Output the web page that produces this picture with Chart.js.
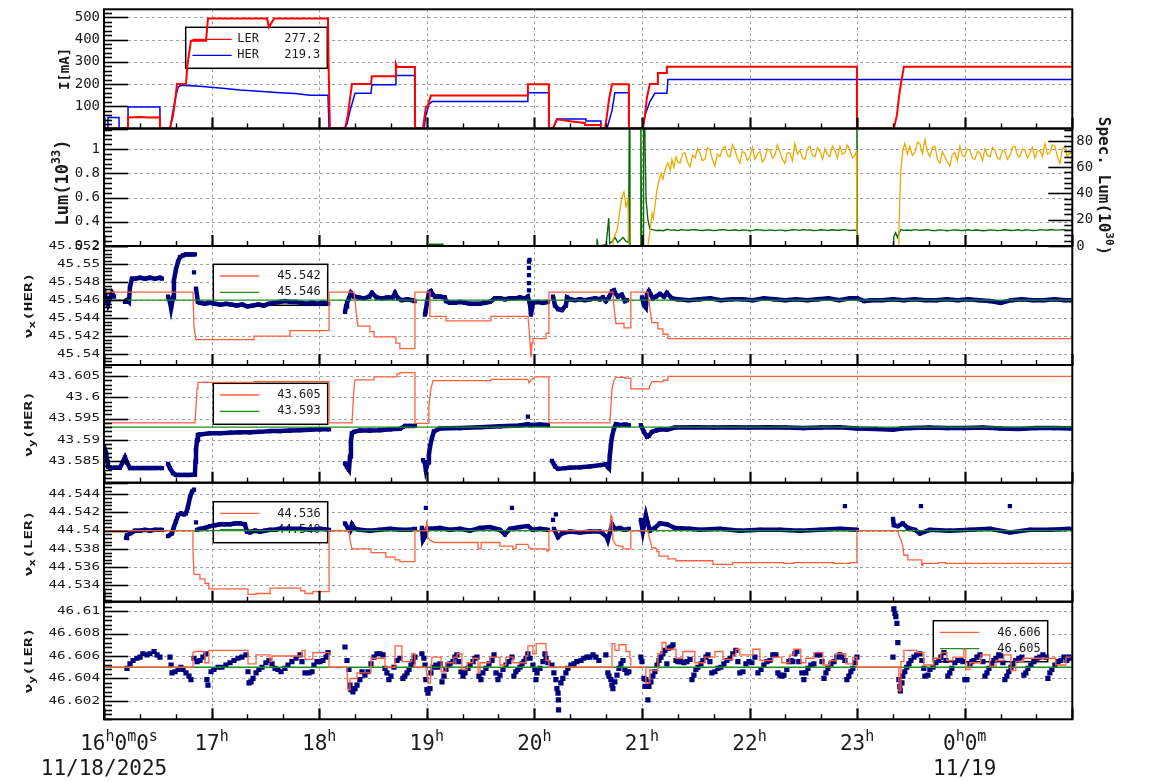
<!DOCTYPE html>
<html>
<head>
<meta charset="utf-8">
<title>Beam current, luminosity and tunes</title>
<script src="https://cdn.jsdelivr.net/npm/chart.js@4.4.1/dist/chart.umd.min.js"></script>
<style>
  html, body { margin: 0; padding: 0; background: #fff; }
  #wrap { position: relative; width: 1154px; height: 782px; }
  #wrap canvas { position: absolute; left: 0; top: 0; }
</style>
</head>
<body>
<div id="wrap">
  <canvas id="pCur" width="1154" height="782"></canvas>
  <canvas id="pLum" width="1154" height="782"></canvas>
  <canvas id="pNuxHer" width="1154" height="782"></canvas>
  <canvas id="pNuyHer" width="1154" height="782"></canvas>
  <canvas id="pNuxLer" width="1154" height="782"></canvas>
  <canvas id="pNuyLer" width="1154" height="782"></canvas>
</div>
<script>
// time is in minutes after 16:00 on 11/18/2025
const hourTicks = [0, 60, 120, 180, 240, 300, 360, 420, 480, 540];
const hourTickLabels = [
  ["16", "h", "0", "m", "0", "s"], ["17", "h"], ["18", "h"], ["19", "h"], ["20", "h"],
  ["21", "h"], ["22", "h"], ["23", "h"], ["0", "h", "0", "m"], null
];
const dateLabels = [[0, "11/18/2025"], [480, "11/19"]];

// ---- beam current [mA] ----
const curTicks = [100, 200, 300, 400, 500];
const curTickLabels = ["100", "200", "300", "400", "500"];
const lerNow = "277.2";
const herNow = "219.3";
const curLer = [[0,0],[13.4,0],[13.4,50],[20,52],[25,49],[31.2,50],[31.2,0],[36.8,0],[38.5,60],[39.6,120],[40.7,200],[45.7,200],[46.5,280],[47.5,340],[48.5,395],[56.9,395],[58,495],[90.9,495],[92,455],[94.8,495],[124.9,495],[125.3,260],[126,0],[134.4,0],[136,60],[136.6,100],[138.3,200],[148.9,200],[149.4,235],[162.3,235],[162.8,290],[163.4,277],[173.4,277],[173.4,0],[177.9,0],[179.5,98],[180.5,100],[182.3,148],[236.4,148],[236.4,199],[248.1,199],[248.1,0],[250.4,0],[252.6,41],[260,33],[268.2,25],[268.2,16],[277.1,16],[277.1,0],[279.4,0],[280.5,60],[281.6,130],[283.3,199],[292.7,199],[292.7,0],[300.5,0],[301.7,60],[302.8,140],[304.4,200],[308.9,200],[308.9,250],[313.9,250],[313.9,278],[419.9,278],[419.9,0],[440.5,0],[442.2,60],[443.3,140],[444.4,200],[445.5,250],[446.1,278],[539.7,278]];
const curHer = [[0,0],[2.2,0],[2.2,50],[8.4,50],[8.4,0],[13.4,0],[13.4,97],[31.2,97],[31.2,0],[36.8,0],[37.9,50],[39.6,130],[41.3,185],[42.9,195],[53.5,190],[59.7,185],[67.5,180],[75.8,173],[84.4,169],[98.1,161],[106.5,157],[114.9,150],[124.9,150],[125.5,0],[134.4,0],[135.5,20],[137.2,80],[140,158],[148.9,158],[149.4,197],[162.3,197],[162.8,238],[173.4,238],[173.4,0],[178.5,0],[179.5,60],[181.3,110],[183,121],[236.4,121],[236.4,161],[248.1,161],[248.1,0],[250.4,0],[252.6,43],[268.8,43],[268.8,34],[277.1,34],[277.1,0],[280.5,0],[283.3,80],[284.9,161],[292.7,161],[292.7,0],[300.5,0],[301.7,60],[304.4,120],[307.2,158],[313.9,158],[314.5,220],[539.7,220]];

// ---- luminosity [1e33] and specific luminosity [1e30] ----
const lumTicks = [0.2, 0.4, 0.6, 0.8, 1];
const lumTickLabels = ["0.2", "0.4", "0.6", "0.8", "1"];
const specTicks = [0, 20, 40, 60, 80];
const specTickLabels = ["0", "20", "40", "60", "80"];
const lum = [[0,0],[181,0],[181.5,0.215],[189,0.215],[189.5,0],[274.5,0],[275,0.26],[275.5,0.2],[280,0.21],[281.5,0.43],[282,0.22],[283.5,0.24],[285,0.27],[286.5,0.23],[288,0.25],[289.5,0.27],[291,0.24],[292.5,0.23],[293,1.3],[293.3,0.1],[299.2,0.1],[299.4,1.3],[299.8,0.2],[300.6,0.2],[300.9,1.3],[301.5,1.3],[301.8,0.97],[302.3,0.58],[303.3,0.42],[304.4,0.34],[306,0.335],[308,0.328],[310,0.33],[312,0.326],[314,0.338],[316,0.331],[318,0.332],[320,0.327],[322,0.336],[324,0.331],[326,0.33],[328,0.335],[330,0.334],[332,0.329],[334,0.328],[336,0.333],[338,0.332],[340,0.327],[342,0.33],[344,0.335],[346,0.334],[348,0.329],[350,0.33],[352,0.334],[354,0.327],[356,0.332],[358,0.331],[360,0.326],[362,0.329],[364,0.334],[366,0.333],[368,0.328],[370,0.33],[372,0.333],[374,0.327],[376,0.331],[378,0.331],[380,0.326],[382,0.329],[384,0.334],[386,0.333],[388,0.329],[390,0.336],[392,0.331],[394,0.332],[396,0.327],[398,0.329],[400,0.334],[402,0.331],[404,0.328],[406,0.334],[408,0.33],[410,0.33],[412,0.335],[414,0.333],[416,0.328],[418,0.331],[419.7,0.33],[419.9,1.3],[420.2,0.1],[440,0.1],[440.5,0.28],[441.5,0.31],[442.5,0.27],[443.5,0.31],[444.5,0.335],[446,0.329],[448,0.332],[450,0.328],[452,0.335],[454,0.331],[456,0.33],[458,0.334],[460,0.333],[462,0.327],[464,0.328],[466,0.333],[468,0.331],[470,0.326],[472,0.329],[474,0.333],[476,0.332],[478,0.327],[480,0.33],[482,0.334],[484,0.327],[486,0.332],[488,0.33],[490,0.326],[492,0.328],[494,0.333],[496,0.331],[498,0.327],[500,0.329],[502,0.334],[504,0.332],[506,0.328],[508,0.33],[510,0.334],[512,0.327],[514,0.332],[516,0.331],[518,0.327],[520,0.329],[522,0.335],[524,0.333],[526,0.33],[528,0.336],[530,0.332],[532,0.331],[534,0.335],[536,0.333],[538,0.329],[539.7,0.33]];
const specLum = [[283.5,0],[283.8,4.6],[286.1,12],[287.7,27],[288.8,37],[290,41],[291.1,30],[292.2,35],[292.7,0],[303.3,0],[304.4,10],[305.6,25],[306.4,21],[307.2,30],[308.4,43],[309.5,50],[310.6,55],[311.7,51],[312.8,57],[313.6,61],[314.5,63],[315.9,58],[316.7,66],[317.8,60],[319,68],[320.1,64],[321.2,63],[322.6,70],[324,71],[325.4,64],[326.8,60.5],[328.2,69],[329.6,67],[331,74],[332.3,71],[333.7,65],[335.1,66],[336.5,75],[337.9,73],[339.3,66],[340.7,61],[342.1,70],[343.5,68],[344.9,74],[346.3,76],[347.7,69],[349.1,68],[350.5,77],[351.8,73],[353.2,67],[354.6,63],[356,72],[357.4,71],[358.8,65],[360.2,68],[361.6,75],[363,66],[364.4,70],[365.8,72],[367.2,64],[368.6,67],[370,74],[371.4,73],[372.8,67],[374.2,69],[375.5,77],[376.9,72],[378.3,66],[379.7,63],[381.1,71],[382.5,71],[383.9,65],[385.3,78],[386.7,70],[388.1,73],[389.5,67],[390.9,66],[392.3,74],[393.7,76],[395.1,69],[396.5,68],[397.9,75],[399.3,72],[400.7,66],[402,74],[403.4,70],[404.8,68],[406.2,76],[407.6,73],[409,67],[410.4,76],[411.8,70],[413.2,71],[414.6,77],[416,73],[417.4,67],[418.8,69],[419.6,72],[419.9,0],[443,0],[443.3,10],[443.8,35],[444.4,58],[445.5,73],[446.6,78],[448,70],[449.4,76],[450.8,69],[452.2,71],[453.6,79],[455,78],[456.4,70],[457.8,81],[459.2,72],[460.6,68],[462,75],[463.4,76],[464.8,66],[466.2,63],[467.6,72],[468.9,68],[470.3,64],[471.7,61],[473.1,70],[474.5,71],[475.9,65],[477.3,76],[478.7,69],[480.1,68],[481.5,74],[482.9,73],[484.3,67],[485.7,66],[487.1,72],[488.5,71],[489.9,65],[491.3,74],[492.7,69],[494.1,68],[495.5,75],[496.8,73],[498.2,67],[499.6,66],[501,73],[502.4,72],[503.8,66],[505.2,69],[506.6,75],[508,76],[509.4,69],[510.8,68],[512.2,74],[513.6,73],[515,67],[516.4,71],[517.8,75],[519.1,67],[520.5,72],[521.9,73],[523.3,68],[524.7,78],[526.1,70],[527.5,71],[528.9,77],[530.3,76],[531.7,68],[533.1,63],[534.5,74],[535.9,76],[537.2,68],[538.6,71],[539.6,70]];

// ---- nu_x (HER) ----
const nuxHerTicks = [45.54, 45.542, 45.544, 45.546, 45.548, 45.55, 45.552];
const nuxHerTickLabels = ["45.54", "45.542", "45.544", "45.546", "45.548", "45.55", "45.552"];
const nuxHerSetNow = "45.542";
const nuxHerRef = 45.546;
const nuxHerSet = [[0,45.5469],[49.6,45.5469],[50.2,45.543],[51.3,45.5416],[83.6,45.5416],[83.6,45.542],[103.7,45.542],[103.7,45.5426],[125.5,45.5426],[125.5,45.5469],[139.4,45.5469],[140.6,45.5448],[141.1,45.5438],[141.7,45.5431],[148.3,45.5431],[148.3,45.5425],[150.6,45.5425],[150.6,45.5419],[162.8,45.5419],[162.8,45.5412],[165,45.5412],[165,45.5406],[173.4,45.5406],[173.4,45.5469],[181.8,45.5469],[181.8,45.5442],[190.7,45.5442],[190.7,45.5437],[215.8,45.5437],[215.8,45.5442],[236.4,45.5442],[237,45.543],[237.6,45.5412],[238.1,45.5396],[238.7,45.5412],[239.2,45.5417],[246.5,45.5417],[246.5,45.5423],[248.1,45.5423],[248.1,45.5469],[283.8,45.5469],[284.4,45.5453],[285.5,45.5434],[290,45.5434],[290,45.5429],[293.8,45.5429],[293.8,45.5469],[303.3,45.5469],[304.4,45.5451],[305.6,45.5435],[308.9,45.5435],[308.9,45.5428],[311.7,45.5428],[311.7,45.5422],[314.5,45.5422],[314.5,45.5417],[539.7,45.5417]];
const nuxHerMeas = [[0,45.5471],[1.1,45.5462],[2.2,45.5455],[3.3,45.5462],[4.5,45.5468],[5.6,45.5464],[6.5,null],[11.7,45.5458],[12.8,45.546],[13.9,45.5458],[14.5,45.5475],[15.6,45.5484],[17.3,45.5484],[20.1,45.5485],[22.9,45.5484],[25.6,45.5485],[28.4,45.5484],[31.2,45.5485],[32.3,45.5484],[33,null],[35.7,45.5464],[36.8,45.5458],[37.4,45.5451],[38.5,45.5463],[39,45.5482],[40.1,45.5494],[41.3,45.5503],[42.4,45.5508],[44.1,45.551],[45.7,45.5511],[48,45.5511],[50.7,45.5511],[51,null],[51.3,45.5473],[52.4,45.5458],[53.5,45.5457],[56.3,45.5456],[59,45.5457],[62,45.5456],[65,45.5455],[68,45.5456],[71,45.5455],[74,45.5454],[77,45.5455],[80,45.5453],[83,45.5454],[86,45.5455],[89,45.5454],[92,45.5456],[95,45.5457],[98,45.5458],[101,45.5459],[104,45.5458],[107,45.5458],[110,45.5457],[113,45.5456],[116,45.5457],[119,45.5456],[122,45.5457],[125,45.5456],[126,null],[134.4,45.5447],[135,45.5453],[135.5,45.5457],[136.6,45.5462],[137.7,45.5468],[139.4,45.5464],[142,45.5463],[145,45.5462],[148,45.5464],[149.4,45.5468],[152,45.5463],[155,45.5462],[158,45.5463],[161,45.5463],[162.3,45.5468],[164,45.5462],[166,45.546],[169,45.5461],[172,45.546],[173.2,45.5459],[174,null],[179,45.5444],[179.5,45.5449],[180.1,45.5457],[181.2,45.5468],[182.3,45.547],[183.5,45.5466],[184.6,45.5464],[187.4,45.5464],[190.1,45.5463],[190.7,45.5459],[192.9,45.5457],[195.7,45.5457],[198.5,45.5458],[201.3,45.5457],[204.1,45.5456],[206.9,45.5456],[209.7,45.5456],[212.5,45.5457],[215.2,45.5458],[218,45.5462],[220.8,45.5462],[223.6,45.5461],[226.4,45.5462],[229.2,45.5462],[232,45.5463],[234.8,45.5462],[236.4,45.5464],[237.6,45.5455],[238.1,45.5444],[239.2,45.5457],[242,45.5458],[244.8,45.5457],[247.6,45.5458],[248.2,null],[250.4,45.5464],[251.5,45.5454],[253.2,45.545],[255.4,45.5449],[257.6,45.5454],[258.2,45.5463],[259.9,45.5461],[262.6,45.546],[265.4,45.5461],[268.2,45.546],[271,45.5461],[273.8,45.5462],[276.6,45.5461],[278.2,45.5463],[279.9,45.5459],[281.6,45.5463],[283.3,45.547],[284.4,45.5471],[284.9,45.5468],[286.6,45.5464],[288.8,45.5466],[290.5,45.5459],[291.6,45.546],[292.5,null],[300,45.5463],[301.1,45.5455],[302.2,45.5452],[302.8,45.5466],[303.9,45.547],[305,45.5466],[306.1,45.5462],[307.8,45.5464],[310,45.5467],[312.3,45.5464],[313.9,45.5468],[316.7,45.5462],[320,45.5461],[326,45.546],[332,45.5461],[338,45.5462],[344,45.546],[350,45.5461],[356,45.5461],[362,45.546],[368,45.5462],[374,45.5461],[380,45.546],[386,45.5461],[392,45.546],[398,45.5461],[404,45.5462],[410,45.546],[416,45.5462],[420,45.5462],[424,45.5459],[428,45.546],[434,45.546],[440,45.5461],[446,45.546],[452,45.5461],[458,45.546],[464,45.546],[470,45.5461],[476,45.546],[482,45.5461],[488,45.546],[494,45.5459],[500,45.5457],[506,45.546],[512,45.5461],[518,45.546],[524,45.546],[530,45.5461],[536,45.546],[539.5,45.546]];
const nuxHerOutliers = [[50.2,45.5491],[237,45.5471],[237,45.5479],[237,45.5488],[237,45.5496],[237,45.5503],[237.3,45.5505]];

// ---- nu_y (HER) ----
const nuyHerTicks = [43.585, 43.59, 43.595, 43.6, 43.605];
const nuyHerTickLabels = ["43.585", "43.59", "43.595", "43.6", "43.605"];
const nuyHerSetNow = "43.605";
const nuyHerRef = 43.593;
const nuyHerSet = [[0,43.594],[50.7,43.594],[51.3,43.5978],[51.9,43.6021],[52.4,43.6035],[83.6,43.6035],[83.6,43.6037],[125.5,43.6037],[125.5,43.594],[138.3,43.594],[138.8,43.5978],[139.4,43.602],[140,43.6041],[150.6,43.6041],[150.6,43.6048],[163.4,43.6048],[163.4,43.6055],[165,43.6055],[165,43.6058],[173.4,43.6058],[173.4,43.5939],[180.7,43.5939],[181.2,43.598],[182.3,43.602],[183.5,43.6039],[215.8,43.6039],[215.8,43.6042],[236.4,43.6042],[237,43.6034],[238.1,43.604],[240.4,43.6048],[248.1,43.6048],[248.1,43.594],[282.1,43.594],[282.7,43.598],[283.3,43.602],[284.4,43.604],[285.5,43.6047],[290.5,43.6047],[290.5,43.6045],[293.8,43.6045],[293.8,43.602],[303.9,43.602],[304.4,43.6027],[305.6,43.6037],[311.7,43.6037],[311.7,43.604],[314.5,43.604],[314.5,43.6049],[539.7,43.6049]];
const nuyHerMeas = [[0,43.5884],[1.1,43.587],[1.7,43.5853],[2.2,43.5837],[3.3,43.5835],[6.1,43.5835],[8.9,43.5835],[11.7,43.5859],[12.8,43.5847],[14.5,43.5834],[17.3,43.5834],[20.1,43.5834],[22.9,43.5834],[25.6,43.5834],[28.4,43.5834],[32.3,43.5834],[33,null],[35.7,43.5844],[36.8,43.5834],[38.5,43.5822],[40.1,43.5818],[42.4,43.5818],[45.2,43.5818],[48,43.5818],[50.7,43.5819],[51,43.5849],[51.3,43.5877],[51.9,43.59],[52.4,43.5912],[53.5,43.5913],[59.1,43.5916],[64.7,43.5916],[70.3,43.5917],[75.8,43.5918],[81.4,43.5918],[87,43.5919],[92.6,43.5921],[98.1,43.5921],[103.7,43.5922],[109.3,43.5923],[114.9,43.5924],[120.4,43.5925],[125.5,43.5925],[126,null],[134.4,43.5845],[135.5,43.5837],[136.6,43.583],[137.2,43.5861],[137.7,43.5896],[138.3,43.5916],[139.4,43.5919],[142.7,43.5922],[148.3,43.5922],[153.9,43.5923],[159.5,43.5925],[165,43.5926],[167.9,43.5933],[170.6,43.5933],[173.4,43.5933],[174,null],[177.9,43.5853],[179,43.5845],[179.5,43.583],[180.7,43.5848],[181.2,43.5865],[181.8,43.5884],[182.9,43.5905],[184,43.592],[187.4,43.5927],[198.5,43.5928],[209.7,43.593],[220.8,43.5932],[232,43.5934],[236.4,43.5937],[237.6,43.5935],[243.1,43.5936],[247.6,43.5935],[248.2,null],[249.8,43.5851],[251.5,43.5838],[253.2,43.5832],[257.1,43.5834],[259.9,43.5835],[265.4,43.5836],[271,43.5838],[276.6,43.5841],[279.9,43.5843],[281,43.5837],[281.6,43.5834],[282.1,43.5863],[282.7,43.5888],[283.3,43.5908],[284.4,43.5927],[285.5,43.5937],[287.7,43.5935],[290.5,43.5936],[292.7,43.5935],[293,null],[299.4,43.5935],[301.1,43.5919],[302.8,43.5908],[303.9,43.591],[305.6,43.5919],[307.8,43.5922],[310,43.5925],[313.9,43.5924],[318.4,43.5929],[330,43.593],[340,43.5929],[350,43.593],[360,43.5929],[370,43.593],[380,43.5929],[390,43.5928],[400,43.5929],[410,43.593],[420,43.5927],[430,43.5926],[440,43.5924],[445,43.5927],[450,43.5928],[460,43.5929],[470,43.5928],[480,43.5928],[490,43.5929],[500,43.5927],[510,43.5926],[520,43.5928],[530,43.5928],[539.5,43.5927]];
const nuyHerOutliers = [[236.4,43.5955]];

// ---- nu_x (LER) ----
const nuxLerTicks = [44.534, 44.536, 44.538, 44.54, 44.542, 44.544];
const nuxLerTickLabels = ["44.534", "44.536", "44.538", "44.54", "44.542", "44.544"];
const nuxLerSetNow = "44.536";
const nuxLerRef = 44.540;
const nuxLerSet = [[0,44.54],[49.6,44.54],[49.6,44.5379],[50.2,44.5352],[53.5,44.5352],[53.5,44.5347],[56.3,44.5347],[56.3,44.5342],[58.5,44.5342],[58.5,44.5336],[80.3,44.5336],[80.3,44.533],[84.8,44.533],[84.8,44.5331],[92.6,44.5331],[92.6,44.5337],[109.8,44.5337],[109.8,44.5334],[112.1,44.5334],[112.1,44.5331],[116.5,44.5331],[116.5,44.5333],[125.5,44.5333],[125.5,44.54],[136.6,44.54],[137.2,44.539],[138.3,44.538],[148.9,44.538],[148.9,44.5376],[157.2,44.5376],[157.2,44.5371],[162.3,44.5371],[162.3,44.5368],[165,44.5368],[165,44.5366],[173.4,44.5366],[173.4,44.54],[179.5,44.54],[180.1,44.5411],[180.7,44.5392],[182.3,44.5389],[184.6,44.5387],[208.6,44.5387],[208.6,44.538],[210.3,44.538],[210.3,44.5387],[220.8,44.5387],[220.8,44.5383],[228.1,44.5383],[228.1,44.538],[229.8,44.538],[229.8,44.5385],[236.4,44.5385],[237,44.5381],[239.2,44.538],[246.5,44.538],[247,44.5378],[248.1,44.5378],[248.1,44.54],[282.1,44.54],[282.7,44.5417],[283.3,44.5415],[283.8,44.539],[285.5,44.5384],[287.7,44.5383],[289.4,44.5383],[289.4,44.538],[293.8,44.538],[293.8,44.54],[303.3,44.54],[304.4,44.539],[305.6,44.5381],[307.8,44.5381],[308.4,44.5377],[309.5,44.5377],[309.5,44.5372],[314.5,44.5372],[314.5,44.5369],[319,44.5369],[319,44.5367],[339.6,44.5367],[339.6,44.5363],[350.7,44.5363],[350.7,44.5365],[379.1,44.5365],[379.1,44.5364],[384.7,44.5364],[384.7,44.5365],[407.1,44.5365],[407.1,44.5364],[416,44.5364],[416,44.5365],[419.9,44.5365],[419.9,44.54],[442.7,44.54],[443.3,44.5395],[444.4,44.539],[445.5,44.5383],[446.1,44.5373],[448.3,44.5373],[448.3,44.5368],[456.1,44.5368],[456.1,44.5362],[456.6,44.5362],[456.6,44.5364],[465.5,44.5364],[465.5,44.5365],[469.4,44.5365],[469.4,44.5364],[539.7,44.5364]];
const nuxLerMeas = [[12.3,44.5392],[12.8,44.5395],[14.5,44.5397],[17.3,44.54],[20.1,44.54],[22.9,44.5401],[25.6,44.54],[28.4,44.5401],[32.3,44.5401],[33,null],[35.7,44.5394],[37.9,44.5397],[39,44.5404],[40.1,44.541],[41.3,44.5417],[42.9,44.5419],[44.6,44.5418],[45.7,44.5419],[46.8,44.5426],[48,44.5437],[49.1,44.5443],[50.2,44.5445],[50.8,null],[51.9,44.5401],[53.5,44.5402],[56.3,44.5403],[59.1,44.5405],[61.9,44.5406],[64.7,44.5407],[67.5,44.5407],[70.3,44.5407],[73,44.5408],[75.8,44.5408],[78.6,44.5407],[79.7,44.5399],[81.4,44.5398],[84.2,44.54],[87,44.5399],[89.8,44.54],[92.6,44.5401],[95.4,44.5401],[98.1,44.5402],[103.7,44.5402],[109.3,44.5402],[114.9,44.5401],[120.4,44.5402],[125.5,44.5401],[126,null],[134.4,44.5408],[136,44.5403],[137.2,44.54],[138.3,44.5407],[140,44.5402],[142.7,44.5401],[148.3,44.54],[153.9,44.5401],[159.5,44.5402],[165,44.5401],[170.6,44.5401],[173.4,44.5402],[174,null],[177.3,44.5403],[177.9,44.539],[179,44.5394],[180.1,44.5402],[181.8,44.5402],[187.4,44.5403],[192.9,44.5401],[198.5,44.5402],[204.1,44.54],[209.7,44.5403],[215.2,44.5404],[220.8,44.5401],[223.6,44.5396],[226.4,44.5402],[232,44.5404],[236.4,44.5405],[239.2,44.5401],[243.1,44.5402],[247.6,44.5401],[248.2,null],[250.9,44.5402],[253.2,44.5393],[255.4,44.5397],[259.9,44.5399],[265.4,44.5398],[271,44.5399],[276.6,44.5399],[280.5,44.5393],[281,44.539],[283.3,44.5407],[284.9,44.5402],[287.7,44.5403],[290.5,44.5401],[292.7,44.5402],[293,null],[299.4,44.5412],[300.5,44.5399],[302.2,44.5417],[303.3,44.5408],[304.4,44.54],[307.2,44.5403],[310,44.5408],[313.9,44.5407],[318.4,44.5403],[326.8,44.5402],[332.3,44.5401],[343.5,44.5402],[354.6,44.54],[365.8,44.5401],[376.9,44.5401],[388.1,44.54],[399.3,44.5401],[410.4,44.5402],[419.9,44.5401],[420.2,null],[440,44.5413],[440.5,44.5406],[442.7,44.5405],[445.5,44.5408],[448.3,44.5403],[452.2,44.5401],[455,44.5397],[460.6,44.5401],[471.7,44.54],[482.9,44.5401],[494.1,44.5402],[505.2,44.5398],[516.4,44.5401],[527.5,44.5401],[538.6,44.5402]];
const nuxLerOutliers = [[51.3,44.5409],[179.5,44.5425],[227.5,44.5425],[250.4,44.5412],[252,44.5418],[413.2,44.5427],[455.6,44.5427],[505.2,44.5427]];

// ---- nu_y (LER) ----
const nuyLerTicks = [46.602, 46.604, 46.606, 46.608, 46.61];
const nuyLerTickLabels = ["46.602", "46.604", "46.606", "46.608", "46.61"];
const nuyLerSetNow = "46.606";
const nuyLerRef = 46.605;
const nuyLerSet = [[0,46.605],[49.6,46.605],[49.6,46.6063],[50.7,46.6064],[56.3,46.6064],[56.3,46.6054],[58.5,46.6054],[58.5,46.6065],[80.3,46.6065],[80.3,46.6053],[84.8,46.6053],[84.8,46.6061],[92.6,46.6061],[92.6,46.6055],[93.7,46.6055],[93.7,46.606],[110.4,46.606],[110.4,46.6065],[112.1,46.6065],[112.1,46.6057],[116.5,46.6057],[116.5,46.6063],[125.5,46.6063],[125.5,46.605],[135.5,46.605],[136,46.603],[137.2,46.603],[137.2,46.604],[141.1,46.604],[141.1,46.6045],[148.9,46.6045],[148.9,46.6058],[156.7,46.6058],[156.7,46.605],[162.3,46.605],[162.3,46.6069],[166.1,46.6069],[166.1,46.6055],[171.7,46.6055],[171.7,46.6062],[173.4,46.6062],[173.4,46.605],[179.5,46.605],[180.7,46.6036],[182,46.6036],[182.9,46.6059],[188,46.6059],[188,46.6046],[190.7,46.6046],[190.7,46.6054],[195.1,46.6054],[195.1,46.6059],[196.9,46.6059],[196.9,46.6062],[199.6,46.6062],[199.6,46.6048],[202.5,46.6048],[202.5,46.6054],[205.8,46.6054],[205.8,46.6058],[208.6,46.6058],[208.6,46.6045],[209.7,46.6045],[209.7,46.6054],[215.2,46.6054],[215.2,46.6059],[220.8,46.6059],[220.8,46.6052],[224.1,46.6052],[224.1,46.6059],[228.1,46.6059],[228.1,46.6054],[235.3,46.6054],[235.3,46.606],[236.4,46.606],[236.4,46.6069],[239.2,46.6069],[239.2,46.6062],[241,46.6062],[241,46.6071],[246.5,46.6071],[246.5,46.6056],[248.1,46.6056],[248.1,46.605],[283.3,46.605],[283.3,46.6071],[284.9,46.6071],[284.9,46.6065],[287.2,46.6065],[287.2,46.607],[291.1,46.607],[291.1,46.6064],[293.3,46.6064],[293.3,46.6058],[293.8,46.6058],[293.8,46.605],[302.2,46.605],[302.2,46.6036],[304.4,46.6036],[304.4,46.6048],[305.6,46.6047],[308.9,46.6047],[308.9,46.6062],[311.2,46.6062],[311.2,46.6072],[313.4,46.6072],[313.4,46.6066],[319,46.6066],[319,46.6058],[322.8,46.6058],[322.8,46.6064],[329.5,46.6064],[329.5,46.6054],[335.1,46.6054],[335.1,46.6059],[340.7,46.6059],[340.7,46.6064],[345.2,46.6064],[345.2,46.6057],[350.7,46.6057],[350.7,46.6061],[352.4,46.6061],[352.4,46.6066],[354.6,46.6066],[354.6,46.6061],[361.9,46.6061],[361.9,46.6066],[365.8,46.6066],[365.8,46.6056],[373,46.6056],[373,46.6059],[378,46.6059],[378,46.6054],[382.5,46.6054],[382.5,46.6061],[384.7,46.6061],[384.7,46.6066],[388.6,46.6066],[388.6,46.6054],[391.4,46.6054],[391.4,46.6058],[395.9,46.6058],[395.9,46.6063],[400.9,46.6063],[400.9,46.6052],[404.8,46.6052],[404.8,46.6056],[408.2,46.6056],[408.2,46.6062],[413.7,46.6062],[413.7,46.6053],[417.6,46.6053],[417.6,46.6059],[419.9,46.6059],[419.9,46.605],[443.3,46.605],[443.3,46.6029],[444.4,46.6029],[444.4,46.6055],[446.1,46.6055],[446.1,46.6065],[453.3,46.6065],[453.3,46.6063],[457.2,46.6063],[457.2,46.6052],[462.8,46.6052],[462.8,46.6058],[466.7,46.6058],[466.7,46.6063],[470.1,46.6063],[470.1,46.6056],[473.4,46.6056],[473.4,46.6059],[479.5,46.6059],[479.5,46.6066],[480.6,46.6066],[480.6,46.6048],[482.9,46.6048],[482.9,46.6054],[489,46.6054],[489,46.6061],[494,46.6061],[494,46.6051],[497.4,46.6051],[497.4,46.6056],[501.8,46.6056],[501.8,46.6061],[505.8,46.6061],[505.8,46.6047],[508.5,46.6047],[508.5,46.6055],[512.5,46.6055],[512.5,46.6058],[530.8,46.6058],[530.8,46.6052],[536.4,46.6052],[536.4,46.6059],[539.7,46.6059]];
const nuyLerMeas = [[12.8,46.6049],[14.5,46.6053],[16.2,46.6056],[18.4,46.6058],[20.1,46.6059],[21.7,46.6062],[24,46.6061],[25.6,46.6062],[27.9,46.6064],[29.6,46.6061],[31.2,46.6059],[36.8,46.6059],[37.4,46.6052],[37.9,46.6045],[39.6,46.6046],[41.3,46.6048],[42.9,46.605],[44.1,46.6048],[45.7,46.6045],[47.4,46.6042],[48.5,46.6039],[50.2,46.6058],[51.9,46.6055],[53.5,46.6056],[55.2,46.6059],[56.9,46.6062],[57.4,46.6039],[58,46.6034],[59.7,46.6046],[61.3,46.6048],[63.6,46.605],[65.8,46.605],[68,46.6052],[70.3,46.6054],[72.5,46.6056],[74.7,46.6058],[76.9,46.6059],[79.2,46.6061],[80.3,46.6046],[80.9,46.6036],[82,46.6037],[83.1,46.604],[84.8,46.6045],[86.4,46.6048],[88.1,46.605],[90.3,46.6054],[92,46.6056],[93.7,46.6053],[95.4,46.6049],[97,46.6048],[98.7,46.6046],[100.9,46.6049],[102.6,46.6052],[104.8,46.6055],[107.1,46.6058],[109.3,46.6061],[110.4,46.6055],[112.1,46.6045],[114.3,46.6045],[116,46.6046],[117.1,46.6052],[118.8,46.6055],[120.4,46.6055],[122.1,46.6056],[123.8,46.6059],[124.9,46.6063],[134.4,46.6068],[135.5,46.6056],[136.6,46.6048],[137.2,46.6034],[137.7,46.603],[138.8,46.6028],[140,46.6031],[141.1,46.6034],[142.7,46.6039],[143.9,46.6046],[145.5,46.6043],[147.2,46.6046],[148.9,46.6053],[150.6,46.6059],[152.2,46.6062],[153.9,46.6062],[155.6,46.6061],[156.7,46.6049],[157.8,46.6045],[158.9,46.6039],[160,46.6042],[161.7,46.605],[163.4,46.6056],[165,46.6058],[166.7,46.604],[167.8,46.6042],[169,46.6045],[170.1,46.6048],[171.2,46.6052],[172.3,46.6055],[173.4,46.6059],[177.3,46.6062],[178.4,46.6058],[179,46.6052],[179.5,46.6039],[180.1,46.603],[180.7,46.6027],[181.8,46.6031],[182.3,46.6045],[183.5,46.605],[185.1,46.6052],[186.2,46.605],[187.4,46.6053],[188.5,46.6037],[189.6,46.6042],[190.7,46.6048],[191.8,46.6052],[192.9,46.6053],[194.6,46.6055],[195.7,46.6059],[196.8,46.6061],[197.9,46.6055],[199.1,46.6046],[200.2,46.6042],[201.3,46.6045],[203,46.6049],[204.1,46.6052],[205.8,46.6055],[206.9,46.6058],[208,46.6059],[209.1,46.6042],[210.2,46.6039],[211.3,46.6045],[213,46.6049],[214.7,46.6053],[216.4,46.6056],[217.5,46.6061],[218.6,46.6045],[219.7,46.6039],[220.8,46.6043],[222.5,46.6048],[224.2,46.6052],[225.8,46.6055],[227.5,46.6059],[228.6,46.6042],[229.7,46.6046],[230.8,46.6048],[232,46.605],[233.1,46.6053],[234.2,46.6055],[235.3,46.6058],[236.4,46.6062],[237.6,46.6058],[239.2,46.6052],[240.3,46.6048],[240.9,46.6039],[241.5,46.6045],[243.1,46.6049],[244.8,46.6055],[245.9,46.6062],[246.5,46.6058],[247.6,46.6054],[249.8,46.6052],[250.9,46.6045],[252,46.6039],[252.6,46.6031],[253.2,46.6027],[253.4,46.6021],[253.5,46.6012],[254.8,46.6036],[255.9,46.604],[257.6,46.6045],[258.7,46.6049],[260.4,46.6052],[262.1,46.6053],[263.7,46.6055],[266,46.6056],[267.6,46.6058],[269.3,46.6059],[271,46.6059],[272.7,46.6061],[274.3,46.6059],[276,46.6056],[279.9,46.6061],[281,46.6045],[281.6,46.6042],[282.7,46.6039],[283.3,46.6034],[283.8,46.6031],[284.9,46.6037],[286.1,46.6043],[287.2,46.6049],[288.3,46.6053],[289.4,46.6056],[290.5,46.6048],[291.6,46.6045],[292.7,46.6046],[299.4,46.6059],[300,46.6055],[301.1,46.604],[301.7,46.6033],[302.2,46.6039],[303.3,46.6021],[303.9,46.6033],[305,46.6037],[306.1,46.6042],[307.2,46.6046],[308.4,46.6052],[309.5,46.6056],[310.6,46.6059],[311.7,46.6062],[312.8,46.6065],[313.9,46.6053],[315,46.6067],[316.2,46.6068],[317.3,46.607],[319,46.6056],[320.1,46.6055],[321.7,46.6055],[323.4,46.6054],[325.1,46.6055],[326.8,46.6057],[327.9,46.6039],[329,46.6043],[330.1,46.6048],[331.2,46.605],[332.9,46.6053],[334,46.6056],[335.7,46.6059],[336.8,46.6061],[337.9,46.6055],[339,46.6045],[340.7,46.6046],[342.4,46.6049],[344,46.605],[345.7,46.6053],[347.4,46.6056],[349.1,46.6058],[350.7,46.6062],[352.4,46.6065],[353.5,46.6055],[354.6,46.6045],[356.3,46.6046],[358,46.6053],[359.7,46.6055],[361.3,46.6054],[363,46.6059],[364.7,46.6045],[366.4,46.6048],[368,46.6052],[369.7,46.6055],[371.4,46.6056],[373,46.6061],[374.7,46.6061],[375.8,46.6045],[376.9,46.6043],[378,46.6042],[379.2,46.6043],[380.8,46.6048],[382,46.6055],[383.1,46.6056],[384.2,46.6055],[385.3,46.6062],[386.4,46.6064],[387.5,46.6055],[389.2,46.6045],[390.3,46.6039],[391.4,46.6045],[392.6,46.6049],[394.2,46.6052],[395.9,46.6053],[397.6,46.6061],[399.3,46.6061],[400.4,46.6055],[401.5,46.604],[402.6,46.6045],[403.7,46.6049],[405.4,46.6053],[407.1,46.6055],[408.7,46.6059],[410.4,46.6061],[411.5,46.6059],[413.2,46.6056],[414.3,46.6039],[415.4,46.6042],[416.5,46.6046],[417.6,46.6049],[418.8,46.6054],[419.9,46.6059],[440,46.6059],[440.5,46.6102],[441.1,46.6098],[441.6,46.6095],[442.2,46.6089],[442.7,46.6072],[443.3,46.6039],[443.8,46.6033],[444.1,46.6029],[445,46.6036],[445.5,46.6042],[446.6,46.6046],[447.7,46.605],[448.9,46.6053],[450,46.6056],[451.7,46.6059],[453.3,46.6061],[455,46.6062],[456.1,46.6056],[457.2,46.6049],[457.8,46.6042],[459.5,46.6043],[460.6,46.6048],[462.3,46.605],[463.9,46.6054],[465.6,46.6056],[466.7,46.6059],[468.4,46.6063],[469.5,46.6056],[470.6,46.6042],[471.7,46.6045],[472.8,46.6049],[474.5,46.6054],[476.2,46.6056],[477.9,46.6056],[479,46.6055],[480.1,46.6039],[481.2,46.6039],[482.9,46.6053],[484,46.6055],[485.1,46.6056],[486.8,46.6059],[488.5,46.6061],[490.1,46.6055],[491.3,46.6042],[492.4,46.6045],[493.5,46.6049],[495.1,46.6053],[496.3,46.6056],[497.4,46.6058],[499,46.6061],[500.2,46.606],[501.3,46.6054],[502.4,46.6039],[503.5,46.6042],[504.6,46.6046],[505.8,46.605],[506.9,46.6053],[508.5,46.6056],[510.2,46.6058],[511.9,46.6059],[513,46.6043],[514.1,46.6045],[515.2,46.6049],[516.9,46.6052],[518.6,46.6055],[520.2,46.6058],[521.9,46.6059],[523.6,46.6061],[525.3,46.6059],[526.4,46.604],[527.5,46.6045],[528.6,46.6048],[530.3,46.6052],[532,46.6055],[533.6,46.6056],[535.3,46.6059],[537,46.6056],[538.1,46.6059],[539.2,46.6058]];

// ---- look ----
const W = 1154, H = 782;
const PLOT_LEFT = 104, PLOT_RIGHT = 1072.3;
const RED = "#ff0000", BLUE = "#0000ff", LUM_GREEN = "#0b6a0b", SPEC_ORANGE = "#ebaa00";
const SET_RED = "#ff6040", REF_GREEN = "#1e8c1e", NAVY = "#00007f", GRID = "#a0a0a0", INK = "#1a1a1a";
const MONO = '"DejaVu Sans Mono", monospace';

const toXY = pairs => pairs.map(p => ({ x: p[0], y: p[1] }));

function lineSet(pairs, color, width, axis) {
  return {
    data: toXY(pairs), borderColor: color, backgroundColor: color, borderWidth: width,
    pointRadius: 0, tension: 0, fill: false, spanGaps: false, clip: 0, yAxisID: axis || "y"
  };
}

function dotSet(pairs, radius, joined) {
  return {
    data: toXY(pairs), borderColor: NAVY, backgroundColor: NAVY, showLine: joined,
    borderWidth: joined ? 4.5 : 0, pointStyle: "rect", pointRadius: radius, pointBorderWidth: 0,
    spanGaps: false, clip: 0
  };
}

function refLine(v) {
  return lineSet([[0, v], [540, v]], REF_GREEN, 1.3);
}

function hline(ctx, x1, y1, x2, y2) {
  ctx.beginPath();
  ctx.moveTo(x1, y1);
  ctx.lineTo(x2, y2);
  ctx.stroke();
}

function text(ctx, str, x, y, align, font, sx) {
  ctx.save();
  ctx.translate(x, y);
  ctx.scale(sx, 1);
  ctx.font = font;
  ctx.textAlign = align;
  ctx.textBaseline = "middle";
  ctx.fillStyle = INK;
  ctx.fillText(str, 0, 0);
  ctx.restore();
}

// rotated title made of normal / sub / sup pieces
function drawTitle(ctx, t) {
  ctx.save();
  ctx.translate(t.x, t.y);
  ctx.rotate(t.angle);
  ctx.scale(t.sx, 1);
  ctx.fillStyle = INK;
  ctx.textBaseline = "middle";
  ctx.textAlign = "left";
  const fontOf = kind => "bold " + (kind === "n" ? t.size : t.small) + "px " + MONO;
  let total = 0;
  t.parts.forEach(p => { ctx.font = fontOf(p[1]); total += ctx.measureText(p[0]).width; });
  let x = -total / 2;
  t.parts.forEach(p => {
    ctx.font = fontOf(p[1]);
    const dy = p[1] === "sub" ? t.shift : p[1] === "sup" ? -t.shift : 0;
    ctx.fillText(p[0], x, dy);
    x += ctx.measureText(p[0]).width;
  });
  ctx.restore();
}

function drawLegend(ctx, lg) {
  ctx.save();
  ctx.fillStyle = "#fff";
  ctx.fillRect(lg.x, lg.y, lg.w, lg.h);
  ctx.strokeStyle = "#000";
  ctx.lineWidth = 1.5;
  ctx.strokeRect(lg.x, lg.y, lg.w, lg.h);
  ctx.font = "12px " + MONO;
  ctx.textBaseline = "middle";
  ctx.fillStyle = INK;
  lg.rows.forEach((r, i) => {
    const y = lg.y + lg.rowDy[i];
    ctx.strokeStyle = r.color;
    ctx.lineWidth = 1.3;
    hline(ctx, lg.x + 6.7, y, lg.x + 46, y);
    if (r.name) { ctx.textAlign = "left"; ctx.fillText(r.name, lg.x + 51.5, y); }
    ctx.textAlign = "right";
    ctx.fillText(r.value, lg.x + lg.w - 7, y);
  });
  ctx.restore();
}

function drawTimeLabels(ctx, xs) {
  const big = "21px " + MONO, small = "15px " + MONO;
  hourTicks.forEach((m, i) => {
    const parts = hourTickLabels[i];
    if (!parts) return;
    ctx.save();
    ctx.fillStyle = INK;
    ctx.textAlign = "left";
    ctx.textBaseline = "alphabetic";
    let total = 0;
    parts.forEach((s, k) => { ctx.font = k % 2 ? small : big; total += ctx.measureText(s).width; });
    let x = xs.getPixelForValue(m) - total / 2 + (i === 0 ? 15 : 0);
    parts.forEach((s, k) => {
      ctx.font = k % 2 ? small : big;
      ctx.fillText(s, x, k % 2 ? 741 : 750);
      x += ctx.measureText(s).width;
    });
    ctx.restore();
  });
  dateLabels.forEach(d => {
    ctx.save();
    ctx.fillStyle = INK;
    ctx.font = big;
    ctx.textAlign = "center";
    ctx.textBaseline = "alphabetic";
    ctx.fillText(d[1], xs.getPixelForValue(d[0]), 775);
    ctx.restore();
  });
}

// inward tick marks along a vertical edge
function drawYTicks(ctx, scale, edgeX, dir, major, minor) {
  const n0 = Math.ceil(scale.min / minor - 1e-6), n1 = Math.floor(scale.max / minor + 1e-6);
  ctx.lineWidth = 1.6;
  for (let k = n0; k <= n1; k++) {
    const v = k * minor;
    const r = v / major;
    const isMajor = Math.abs(r - Math.round(r)) < 1e-4;
    const py = Math.round(scale.getPixelForValue(v)) + 0.5;
    hline(ctx, edgeX, py, edgeX + dir * (isMajor ? 24 : 8), py);
  }
}

function decoPlugin(p) {
  return {
    id: "deco",
    beforeDatasetsDraw(chart) {
      const ctx = chart.ctx, a = chart.chartArea, xs = chart.scales.x, ys = chart.scales.y;
      ctx.save();
      ctx.strokeStyle = GRID;
      ctx.lineWidth = 1;
      ctx.setLineDash([3, 3]);
      hourTicks.forEach(m => {
        if (m <= 0 || m >= 540) return;
        const px = Math.round(xs.getPixelForValue(m)) + 0.5;
        hline(ctx, px, a.top, px, a.bottom);
      });
      p.ticks.forEach(v => {
        const py = Math.round(ys.getPixelForValue(v)) + 0.5;
        if (py > a.top + 2 && py < a.bottom - 2) hline(ctx, a.left, py, a.right, py);
      });
      ctx.restore();
      if (p.legend) drawLegend(ctx, p.legend);
    },
    afterDatasetsDraw(chart) {
      const ctx = chart.ctx, a = chart.chartArea, xs = chart.scales.x, ys = chart.scales.y;
      ctx.save();
      ctx.strokeStyle = "#000";
      // time ticks on the lower edge
      for (let m = 0; m <= 540; m += 20) {
        const px = Math.round(xs.getPixelForValue(m)) + 0.5;
        const isMajor = m % 60 === 0;
        ctx.lineWidth = isMajor ? 2.2 : 1.4;
        hline(ctx, px, a.bottom, px, a.bottom - (isMajor ? 11 : 5));
      }
      drawYTicks(ctx, ys, a.left, 1, p.major, p.minor);
      if (p.right) drawYTicks(ctx, chart.scales.y2, a.right, -1, p.right.major, p.right.minor);
      ctx.lineWidth = 2;
      ctx.strokeRect(a.left, a.top, a.right - a.left, a.bottom - a.top);
      ctx.restore();

      p.ticks.forEach((v, i) => {
        text(ctx, p.tickLabels[i], a.left - 4, ys.getPixelForValue(v), "right", p.labelFont, p.labelSx);
      });
      if (p.right) {
        const y2 = chart.scales.y2;
        p.right.ticks.forEach((v, i) => {
          text(ctx, p.right.labels[i], a.right + 4, y2.getPixelForValue(v), "left", "14px " + MONO, 1);
        });
        drawTitle(ctx, p.right.title);
      }
      drawTitle(ctx, p.title);
      if (p.timeLabels) drawTimeLabels(ctx, xs);
    }
  };
}

const tuneFont = "10.5px " + MONO;
const tuneTitle = (y, parts) => ({ x: 29.5, y: y, angle: -Math.PI / 2, sx: 1.45, size: 11, small: 9, shift: 3, parts: parts });
const tuneLegend = (x, y, setNow, refNow) => ({
  x: x, y: y, w: 114.4, h: 41, rowDy: [11.7, 28],
  rows: [{ color: SET_RED, value: setNow }, { color: REF_GREEN, value: refNow }]
});

const panels = [
  {
    canvas: "pCur", top: 9.3, bottom: 128.5, yMin: 0, yMax: 536, major: 100, minor: 20,
    ticks: curTicks, tickLabels: curTickLabels, labelFont: "14px " + MONO, labelSx: 1,
    title: { x: 65, y: 69, angle: -Math.PI / 2, sx: 1, size: 14, small: 10, shift: 5, parts: [["I[mA]", "n"]] },
    legend: {
      x: 185.7, y: 27.3, w: 141.6, h: 41, rowDy: [12, 28],
      rows: [{ color: RED, name: "LER", value: lerNow }, { color: BLUE, name: "HER", value: herNow }]
    },
    datasets: [lineSet(curLer, RED, 2), lineSet(curHer, BLUE, 1.5)]
  },
  {
    canvas: "pLum", top: 128.5, bottom: 246, yMin: 0.2, yMax: 1.17, major: 0.2, minor: 0.04,
    ticks: lumTicks, tickLabels: lumTickLabels, labelFont: "14px " + MONO, labelSx: 1,
    title: { x: 63.5, y: 182.5, angle: -Math.PI / 2, sx: 1, size: 17, small: 12, shift: 7, parts: [["Lum(10", "n"], ["33", "sup"], [")", "n"]] },
    right: {
      min: 0, max: 89.5, major: 20, minor: 4, ticks: specTicks, labels: specTickLabels,
      title: { x: 1103, y: 186, angle: Math.PI / 2, sx: 1, size: 16, small: 11, shift: 6, parts: [["Spec. Lum(10", "n"], ["30", "sup"], [")", "n"]] }
    },
    datasets: [lineSet(specLum, SPEC_ORANGE, 1.3, "y2"), lineSet(lum, LUM_GREEN, 1.4)]
  },
  {
    canvas: "pNuxHer", top: 246, bottom: 365, yMin: 45.53877, yMax: 45.55204, major: 0.002, minor: 0.0004,
    ticks: nuxHerTicks, tickLabels: nuxHerTickLabels, labelFont: tuneFont, labelSx: 1.36,
    title: tuneTitle(305.5, [["\u03bd", "n"], ["x", "sub"], ["(HER)", "n"]]),
    legend: tuneLegend(213.3, 264.3, nuxHerSetNow, nuxHerRef.toFixed(3)),
    datasets: [lineSet(nuxHerSet, SET_RED, 1.3), refLine(nuxHerRef), dotSet(nuxHerMeas, 3, true), dotSet(nuxHerOutliers, 3, false)]
  },
  {
    canvas: "pNuyHer", top: 365, bottom: 482.7, yMin: 43.57998, yMax: 43.60758, major: 0.005, minor: 0.001,
    ticks: nuyHerTicks, tickLabels: nuyHerTickLabels, labelFont: tuneFont, labelSx: 1.36,
    title: tuneTitle(424, [["\u03bd", "n"], ["y", "sub"], ["(HER)", "n"]]),
    legend: tuneLegend(213.3, 383.3, nuyHerSetNow, nuyHerRef.toFixed(3)),
    datasets: [lineSet(nuyHerSet, SET_RED, 1.3), refLine(nuyHerRef), dotSet(nuyHerMeas, 3, true), dotSet(nuyHerOutliers, 3, false)]
  },
  {
    canvas: "pNuxLer", top: 482.7, bottom: 601.7, yMin: 44.5322, yMax: 44.54527, major: 0.002, minor: 0.0004,
    ticks: nuxLerTicks, tickLabels: nuxLerTickLabels, labelFont: tuneFont, labelSx: 1.36,
    title: tuneTitle(543.5, [["\u03bd", "n"], ["x", "sub"], ["(LER)", "n"]]),
    legend: tuneLegend(213.3, 501.7, nuxLerSetNow, nuxLerRef.toFixed(3)),
    datasets: [lineSet(nuxLerSet, SET_RED, 1.3), refLine(nuxLerRef), dotSet(nuxLerMeas, 3, true), dotSet(nuxLerOutliers, 3, false)]
  },
  {
    canvas: "pNuyLer", top: 601.7, bottom: 719.3, yMin: 46.60037, yMax: 46.61083, major: 0.002, minor: 0.0004,
    ticks: nuyLerTicks, tickLabels: nuyLerTickLabels, labelFont: tuneFont, labelSx: 1.36,
    title: tuneTitle(660.5, [["\u03bd", "n"], ["y", "sub"], ["(LER)", "n"]]),
    legend: tuneLegend(933.3, 620.7, nuyLerSetNow, nuyLerRef.toFixed(3)),
    timeLabels: true,
    datasets: [lineSet(nuyLerSet, SET_RED, 1.3), refLine(nuyLerRef), dotSet(nuyLerMeas, 3.7, false)]
  }
];

panels.forEach(p => {
  const scales = {
    x: { type: "linear", display: false, min: 0, max: 540 },
    y: { type: "linear", display: false, min: p.yMin, max: p.yMax }
  };
  if (p.right) {
    scales.y2 = { type: "linear", display: false, position: "right", min: p.right.min, max: p.right.max };
  }
  new Chart(document.getElementById(p.canvas), {
    type: "line",
    data: { datasets: p.datasets },
    options: {
      responsive: false,
      animation: false,
      events: [],
      layout: { padding: { left: PLOT_LEFT, right: W - PLOT_RIGHT, top: p.top, bottom: H - p.bottom } },
      plugins: { legend: { display: false }, tooltip: { enabled: false } },
      scales: scales
    },
    plugins: [decoPlugin(p)]
  });
});
</script>
</body>
</html>
